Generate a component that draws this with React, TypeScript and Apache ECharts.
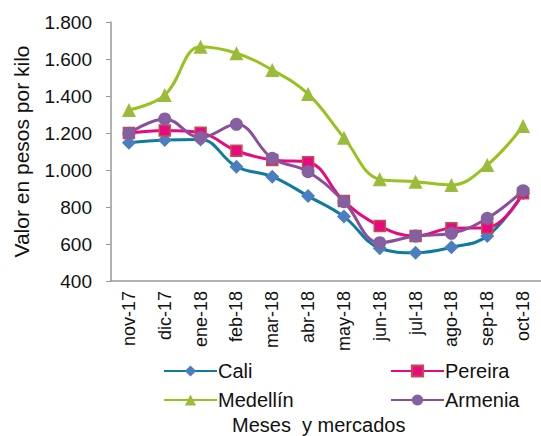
import React, { useEffect, useRef } from "react";
import * as echarts from "echarts";

const categories = ["nov-17", "dic-17", "ene-18", "feb-18", "mar-18", "abr-18", "may-18", "jun-18", "jul-18", "ago-18", "sep-18", "oct-18"];
const cali = [1147, 1162, 1165, 1018, 964, 859, 748, 577, 553, 582, 643, 874];
const pereira = [1200, 1214, 1202, 1104, 1054, 1042, 832, 697, 643, 685, 688, 874];
const medellin = [1324, 1405, 1666, 1631, 1541, 1411, 1175, 950, 937, 919, 1027, 1238];
const armenia = [1198, 1276, 1175, 1247, 1063, 991, 829, 607, 643, 658, 739, 888];
const yTicks = { min: 400, max: 1800, interval: 200 };

const FONT = "'Liberation Sans', Arial, sans-serif";

function fmt(v: number): string {
  const s = String(Math.round(v));
  return s.replace(/\B(?=(\d{3})+(?!\d))/g, ".");
}

export default function App() {
  const ref = useRef<HTMLDivElement>(null);
  useEffect(() => {
    if (!ref.current) return;
    const chart = echarts.init(ref.current, undefined, { renderer: "svg" });
    const mk = (name: string, data: number[], line: string, fill: string, symbol: string, size: number, border?: string) => ({
      name,
      type: "line",
      data,
      smooth: 0.4,
      symbol,
      symbolSize: size,
      lineStyle: { color: line, width: 3 },
      itemStyle: { color: fill, borderColor: border || fill, borderWidth: border ? 1.5 : 0 },
      emphasis: { disabled: true },
    });
    const legendText = { fontSize: 20, color: "#111", fontFamily: FONT, padding: [0, 0, 0, -4] };
    chart.setOption({
      animation: false,
      textStyle: { fontFamily: FONT },
      grid: { left: 111, top: 22, bottom: 155, right: -4, containLabel: false },
      xAxis: {
        type: "category",
        data: categories,
        boundaryGap: true,
        axisLine: { lineStyle: { color: "#999", width: 1.5 } },
        axisTick: { show: false },
        axisLabel: { rotate: 90, fontSize: 18, color: "#111", fontFamily: FONT, margin: 10 },
      },
      yAxis: {
        type: "value",
        min: yTicks.min,
        max: yTicks.max,
        interval: yTicks.interval,
        name: "Valor en pesos por kilo",
        nameLocation: "middle",
        nameGap: 79,
        nameTextStyle: { fontSize: 21, color: "#111", fontFamily: FONT },
        splitLine: { show: false },
        axisLine: { show: true, lineStyle: { color: "#999", width: 1.5 } },
        axisTick: { show: true, length: 5, lineStyle: { color: "#999" } },
        axisLabel: { fontSize: 19, color: "#111", fontFamily: FONT, margin: 19, formatter: (v: number) => fmt(v) },
      },
      legend: [
        {
          data: ["Cali", "Medellín"],
          orient: "vertical",
          left: 158,
          top: 356,
          itemWidth: 53,
          itemHeight: 14,
          itemGap: 9,
          textStyle: legendText,
        },
        {
          data: ["Pereira", "Armenia"],
          orient: "vertical",
          left: 385,
          top: 356,
          itemWidth: 53,
          itemHeight: 14,
          itemGap: 9,
          textStyle: legendText,
        },
      ],
      graphic: [
        {
          type: "text",
          left: 232,
          top: 415,
          style: { text: "Meses  y mercados", fontSize: 20, fill: "#111", fontFamily: FONT },
        },
      ],
      series: [
        mk("Cali", cali, "#0E7BA1", "#4A7EC0", "diamond", 14),
        mk("Pereira", pereira, "#E8087F", "#E8087F", "rect", 11, "#C0504D"),
        mk("Medellín", medellin, "#98C21E", "#9BBB3B", "triangle", 14),
        mk("Armenia", armenia, "#8B4E9C", "#8560A0", "circle", 13),
      ],
    });
    return () => chart.dispose();
  }, []);
  return <div ref={ref} style={{ width: 541, height: 436, position: "absolute", left: 0, top: 0 }} />;
}
